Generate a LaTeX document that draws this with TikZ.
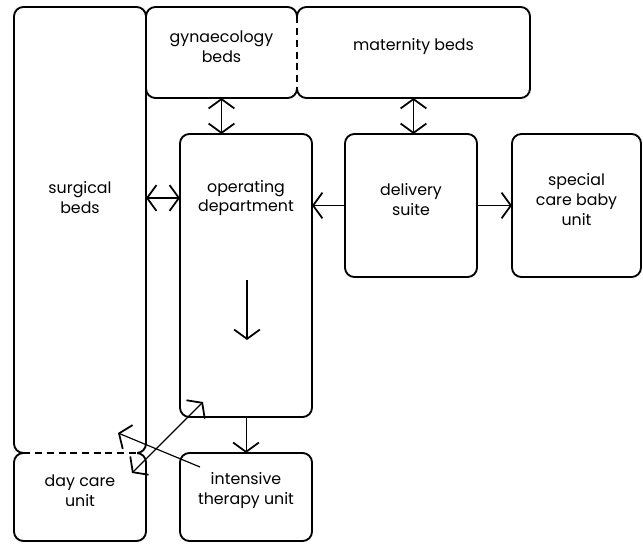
\documentclass[tikz,border=0pt]{standalone}
\usepackage{fontspec}
\setmainfont{Poppins}
\usetikzlibrary{arrows.meta,positioning,fit,calc}

\begin{document}
\begin{tikzpicture}[x=0.03cm, y=-0.03cm,
  room/.style={rectangle,draw,rounded corners=8pt,line width=1.6pt,inner sep=0pt,outer sep=0pt,align=center,font=\fontsize{13.5}{17}\selectfont},
  txt/.style={align=center,font=\fontsize{13.5}{17}\selectfont},
  >={Straight Barb[length=8pt,width=22pt,line width=1.5pt]},
  flow/.style={line width=1pt},
  gap/.style={draw=white,line width=3pt},
  seam/.style={line width=1.6pt,dash pattern=on 6pt off 4pt}]
\useasboundingbox (0,0) rectangle (643,544);
\node[room,fit={(14,7) (146,453)}] (surg) {};
\node[txt] (surgtxt) at (80,198) {surgical\\beds};
\node[room,fit={(14,453) (146,541)}] (day) {day care\\unit};
\node[room,fit={(146,7) (297,98)}] (gyn) {gynaecology\\beds};
\node[room,fit={(297,7) (530,98)}] (mat) {maternity beds};
\node[room,fit={(180,134) (312,417)}] (op) {};
\node[txt] (optxt) at (246,198) {operating\\department};
\node[room,fit={(345,134) (477,277)}] (deliv) {delivery\\suite};
\node[room,fit={(512,134) (641,277)}] (scbu) {special\\care baby\\unit};
\node[room,fit={(180,453) (312,541)}] (itu) {intensive\\therapy unit};
\draw[gap] ([yshift=-8pt]gyn.north east) -- ([yshift=8pt]gyn.south east);
\draw[seam] ([yshift=-8pt]gyn.north east) -- ([yshift=8pt]gyn.south east);
\draw[gap] ([xshift=8pt]surg.south west) -- ([xshift=-8pt]surg.south east);
\draw[seam] ([xshift=8pt]surg.south west) -- ([xshift=-8pt]surg.south east);
\draw[flow,<->] (gyn.south) -- (gyn.south |- op.north);
\draw[flow,<->] (mat.south) -- (mat.south |- deliv.north);
\draw[flow,<->] (surg.east |- optxt) -- (op.west |- optxt);
\draw[flow,->] (deliv.west) -- (op.east |- deliv.west);
\draw[flow,->] (deliv.east) -- (scbu.west);
\coordinate (flowtop) at (247,280); \coordinate (flowbot) at (247,340);
\draw[flow,->] (flowtop) -- (flowbot);
\draw[line width=0.6pt,->] (op.south) -- (itu.north);
\coordinate (dayend) at (132,473); \coordinate (opend) at (203,402);
\draw[flow,<->] (dayend) -- (opend);
\coordinate (ituend) at (200,467); \coordinate (surgend) at (118,433);
\draw[flow,->] (ituend) -- (surgend);
\end{tikzpicture}
\end{document}
